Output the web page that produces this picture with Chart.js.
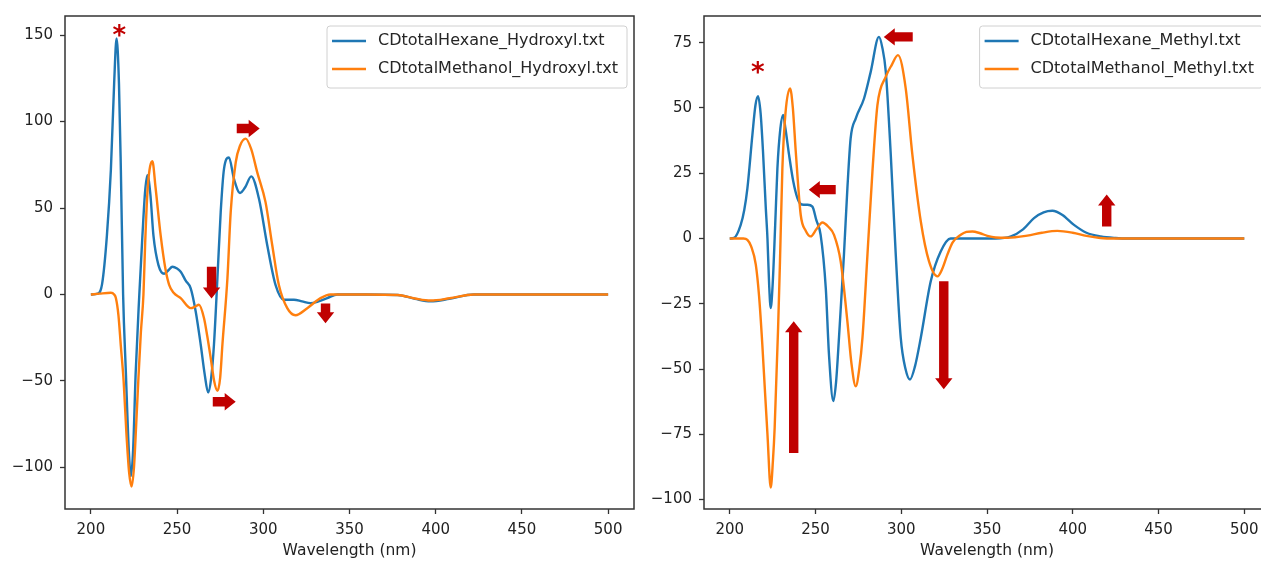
<!DOCTYPE html>
<html>
<head>
<meta charset="utf-8">
<title>CD spectra</title>
<script src="https://cdn.jsdelivr.net/npm/chart.js@4.4.1/dist/chart.umd.min.js"></script>
<style>
  html, body { margin: 0; padding: 0; background: #fff; overflow: hidden; }
  #wrap { position: relative; width: 1261px; height: 566px; overflow: hidden; }
  #wrap canvas { position: absolute; top: 0; }
  #cdHydroxyl { left: 0; }
  #cdMethyl { left: 640px; }
</style>
</head>
<body>
<div id="wrap">
  <canvas id="cdHydroxyl" width="640" height="566"></canvas>
  <canvas id="cdMethyl" width="640" height="566"></canvas>
</div>
<script>
// ---- tick labels ----
const wavelengthTicks = [200, 250, 300, 350, 400, 450, 500];
const hydroxylTicks = [-100, -50, 0, 50, 100, 150];
const methylTicks = [-100, -75, -50, -25, 0, 25, 50, 75];

// ---- Hydroxyl: hexane vs methanol ----
const hexHydroxylNm = [200, 204, 206.5, 209.3, 211.6, 213.5, 214.9, 216.3, 217.4, 218.7,
  220.3, 222, 223.2, 224.5, 226, 228.1, 229.9, 231.5, 232.8, 234.5,
  236.3, 239.2, 242.5, 245, 247.3, 250, 252.1, 255, 257.9, 260.8,
  263.7, 266, 268, 269.8, 271.4, 273.4, 275.3, 277.2, 280.1, 283,
  286.5, 289.5, 293, 297.5, 302.3, 307.1, 312, 317.8, 322.5, 327.4,
  332, 337.1, 343, 360, 378, 388, 397, 408, 422, 500];
const hexHydroxylCD = [0, 0.5, 6, 34, 72, 122, 148, 122, 72, 0,
  -45, -90, -105, -90, -45, 0, 34, 60, 69, 58,
  34, 17, 12, 14, 16, 15, 13.2, 8, 3.6, -9.8,
  -28.9, -46, -56.6, -48, -28.9, 9.4, 47.6, 72.5, 79.2, 66.8,
  58.7, 62, 68.3, 55.3, 28.5, 5.6, -3, -3, -4, -5,
  -4, -2.1, 0, 0, -0.3, -2.5, -4, -2.5, 0, 0];

const methHydroxylNm = [200, 205, 211.6, 213.5, 214.5, 216, 217.4, 219, 220.6, 222.2,
  223.6, 225, 226.3, 227.6, 229, 230.5, 231.5, 233, 235.7, 237.5,
  240.5, 243.2, 245.4, 248, 252.1, 257.9, 260.5, 262.7, 265.6, 267.5,
  269.5, 271.5, 273.4, 275, 276.3, 279.2, 281.1, 284, 286.5, 289.8,
  293, 296.5, 301.3, 305.2, 309, 313.9, 318.7, 325.5, 333.2, 339,
  360, 378, 388, 397, 408, 422, 500];
const methHydroxylCD = [0, 0.5, 1, 0, -2, -12, -30, -50, -80, -103,
  -111, -100, -75, -48, -22, 0, 30, 62, 77, 62,
  34, 15, 5.6, 1, -2.1, -7.9, -7, -5.9, -13.6, -24,
  -36.6, -50, -55.7, -48, -28.9, 9.4, 47.6, 76.3, 86, 90.1,
  84, 70.6, 53.4, 28.5, 5.6, -7.9, -12, -7.9, -2.1, 0,
  0, -0.3, -2.3, -3.5, -2.2, 0, 0];

// ---- Methyl: hexane vs methanol ----
const hexMethylNm = [200, 202.5, 206.4, 208.5, 210.3, 213.2, 215, 216.5, 218, 219.4,
  221, 222, 223, 223.9, 225, 226.5, 227.8, 229.5, 231.1, 232.5,
  234.6, 237, 239.5, 242, 245.3, 248.2, 250.5, 253, 256, 257.9,
  260.4, 262, 263.7, 266.6, 268.6, 270.5, 273.5, 278.3, 282.2, 287,
  289, 291, 293.9, 296.8, 299.7, 302.5, 305.1, 308, 311.4, 317.2,
  323, 328.8, 332, 355, 364, 371, 377.4, 383, 388.1, 394,
  400.7, 408, 416.3, 425, 432, 500];
const hexMethylCD = [0, 0.2, 5.2, 11, 19.2, 39.6, 51, 54.5, 48, 33.3,
  12, 0, -18, -26.6, -18, 5, 26.9, 42, 47.3, 42,
  32, 22, 15.4, 13, 12.9, 12.2, 7, 1.4, -19, -44.8,
  -62.3, -55, -38, -6.2, 19.2, 38.3, 46, 53.6, 63.8, 77.2,
  73, 63.8, 32, -6.2, -38, -50, -54, -49, -38, -16.4,
  -5, 0, 0, 0, 0.8, 3.5, 7.8, 10, 10.6, 9,
  5.2, 2.2, 0.8, 0.2, 0, 0];

const methMethylNm = [200, 208, 210.3, 212.5, 215.2, 217.1, 219, 220.5, 222, 223.9,
  225.2, 226.2, 228.2, 229.3, 230.7, 232.5, 235.2, 236.8, 238.5, 241.4,
  244.3, 247.2, 250.5, 254, 257.5, 260.8, 264.7, 268.6, 271, 273.5,
  275.5, 277.4, 280.3, 283.2, 286.1, 291, 294.5, 298.1, 302.6, 306.5,
  311.4, 316.2, 321.1, 324, 326.9, 330, 334.7, 338, 341.5, 346,
  350.2, 355, 362, 373.5, 382, 391, 400, 408, 416, 425,
  500];
const methMethylCD = [0, 0, -0.5, -3, -10, -22, -40.6, -58, -75, -95.4,
  -85, -72.5, -34.3, -8.8, 26.9, 48, 57.5, 50, 33.3, 9,
  3, 0.8, 3.5, 6.1, 4.5, 1.4, -8.8, -31.7, -48, -56.6,
  -50, -38, -6.2, 25.6, 51, 62, 66.5, 70.2, 57.5, 32,
  6.5, -8.8, -14.5, -11.5, -6.2, -1.5, 1.4, 2.5, 2.7, 2,
  1, 0.4, 0.3, 1.1, 2.2, 2.9, 2.2, 1, 0.2, 0,
  0];

// red markers: arrows as [tailNm, tailCD, tipNm, tipCD], stars as [nm, CD]
const hydroxylArrows = [[284.6, 96, 297.9, 96], [270, 16, 270, -2.3], [270.7, -62, 284, -62], [336.1, -5.2, 336.1, -16.6]];
const hydroxylStars = [[216.5, 151.3]];
const methylArrows = [[306.7, 77.2, 289.8, 77.2], [261.8, 18.7, 246.1, 18.7], [237.3, -82.2, 237.3, -31.7], [324.8, -16.4, 324.8, -57.7], [419.8, 4.6, 419.8, 16.8]];
const methylStars = [[216.3, 64.5]];

const BLUE = '#1f77b4';
const ORANGE = '#ff7f0e';
const MARK_RED = '#c00000';
const FONT = 'DejaVu Sans';

function toPoints(nm, cd) {
  return nm.map((x, i) => ({ x, y: cd[i] }));
}

function blockArrow(ctx, x1, y1, x2, y2) {
  const len = Math.hypot(x2 - x1, y2 - y1);
  const ux = (x2 - x1) / len, uy = (y2 - y1) / len;
  const nx = -uy, ny = ux;
  const sw = 4.7, hw = 8.7, hl = 11;
  const bx = x2 - ux * hl, by = y2 - uy * hl;
  ctx.beginPath();
  ctx.moveTo(x1 + nx * sw, y1 + ny * sw);
  ctx.lineTo(bx + nx * sw, by + ny * sw);
  ctx.lineTo(bx + nx * hw, by + ny * hw);
  ctx.lineTo(x2, y2);
  ctx.lineTo(bx - nx * hw, by - ny * hw);
  ctx.lineTo(bx - nx * sw, by - ny * sw);
  ctx.lineTo(x1 - nx * sw, y1 - ny * sw);
  ctx.closePath();
  ctx.fill();
}

// frame, in-axes legend and the red markers
const cdOverlay = {
  id: 'cdOverlay',
  afterDatasetsDraw(chart, args, opts) {
    const { ctx, chartArea: a, scales: { x, y } } = chart;
    ctx.save();

    ctx.strokeStyle = '#333';
    ctx.lineWidth = 1.5;
    ctx.strokeRect(a.left, a.top, a.width, a.height);

    // legend box, upper right
    ctx.font = '16px "' + FONT + '"';
    const sets = chart.data.datasets;
    const textW = Math.max(...sets.map(d => ctx.measureText(d.label).width));
    const boxW = 51 + textW + 9, boxH = 62;
    const boxR = a.right - 7, boxT = a.top + 10, boxL = boxR - boxW;
    ctx.beginPath();
    ctx.roundRect(boxL, boxT, boxW, boxH, 3);
    ctx.fillStyle = 'rgba(255,255,255,0.85)';
    ctx.fill();
    ctx.strokeStyle = '#d0d0d0';
    ctx.lineWidth = 1;
    ctx.stroke();
    sets.forEach((d, i) => {
      const cy = boxT + 15 + i * 28;
      ctx.strokeStyle = d.borderColor;
      ctx.lineWidth = 2.4;
      ctx.beginPath();
      ctx.moveTo(boxL + 5, cy);
      ctx.lineTo(boxL + 39, cy);
      ctx.stroke();
      ctx.fillStyle = '#262626';
      ctx.textBaseline = 'middle';
      ctx.textAlign = 'left';
      ctx.fillText(d.label, boxL + 51, cy);
    });

    ctx.fillStyle = MARK_RED;
    opts.arrows.forEach(([n1, c1, n2, c2]) => {
      blockArrow(ctx, x.getPixelForValue(n1), y.getPixelForValue(c1),
        x.getPixelForValue(n2), y.getPixelForValue(c2));
    });
    ctx.font = 'bold 26px "' + FONT + '"';
    ctx.textAlign = 'center';
    ctx.textBaseline = 'alphabetic';
    opts.stars.forEach(([n, c]) => {
      ctx.fillText('*', x.getPixelForValue(n), y.getPixelForValue(c) + 11);
    });
    ctx.restore();
  }
};

function makeChart(id, sets, yTicks, yMin, yMax, yWidth, padRight, arrows, stars) {
  const tickFont = { family: FONT, size: 15 };
  return new Chart(document.getElementById(id), {
    type: 'line',
    data: {
      datasets: sets.map((s, i) => ({
        label: s.label,
        data: toPoints(s.nm, s.cd),
        borderColor: s.color,
        borderWidth: 2.4,
        pointRadius: 0,
        fill: false,
        cubicInterpolationMode: 'monotone',
        order: sets.length - i
      }))
    },
    options: {
      responsive: false,
      animation: false,
      events: [],
      layout: { padding: { top: 14, right: padRight, left: 0, bottom: 0 } },
      plugins: {
        legend: { display: false },
        tooltip: { enabled: false },
        cdOverlay: { arrows, stars }
      },
      scales: {
        x: {
          type: 'linear',
          min: 185,
          max: 515,
          afterBuildTicks: s => { s.ticks = wavelengthTicks.map(value => ({ value })); },
          afterFit: s => { s.height = 57; },
          grid: { drawOnChartArea: false, tickLength: 5, tickColor: '#333', tickWidth: 1.3 },
          border: { display: false },
          ticks: { color: '#222', font: tickFont, padding: 7, maxRotation: 0, autoSkip: false },
          title: {
            display: true,
            text: 'Wavelength (nm)',
            color: '#222',
            font: { family: FONT, size: 15.5 },
            padding: { top: 0, bottom: 6 }
          }
        },
        y: {
          type: 'linear',
          min: yMin,
          max: yMax,
          afterBuildTicks: s => { s.ticks = yTicks.map(value => ({ value })); },
          afterFit: s => { s.width = yWidth; },
          grid: { drawOnChartArea: false, tickLength: 5, tickColor: '#333', tickWidth: 1.3 },
          border: { display: false },
          ticks: {
            color: '#222',
            font: tickFont,
            padding: 7,
            callback: v => String(v).replace('-', '\u2212')
          }
        }
      }
    },
    plugins: [cdOverlay]
  });
}

makeChart('cdHydroxyl', [
  { label: 'CDtotalHexane_Hydroxyl.txt', nm: hexHydroxylNm, cd: hexHydroxylCD, color: BLUE },
  { label: 'CDtotalMethanol_Hydroxyl.txt', nm: methHydroxylNm, cd: methHydroxylCD, color: ORANGE }
], hydroxylTicks, -124, 161, 65, 6, hydroxylArrows, hydroxylStars);

makeChart('cdMethyl', [
  { label: 'CDtotalHexane_Methyl.txt', nm: hexMethylNm, cd: hexMethylCD, color: BLUE },
  { label: 'CDtotalMethanol_Methyl.txt', nm: methMethylNm, cd: methMethylCD, color: ORANGE }
], methylTicks, -103.6, 85.2, 64, 10, methylArrows, methylStars);
</script>
</body>
</html>
